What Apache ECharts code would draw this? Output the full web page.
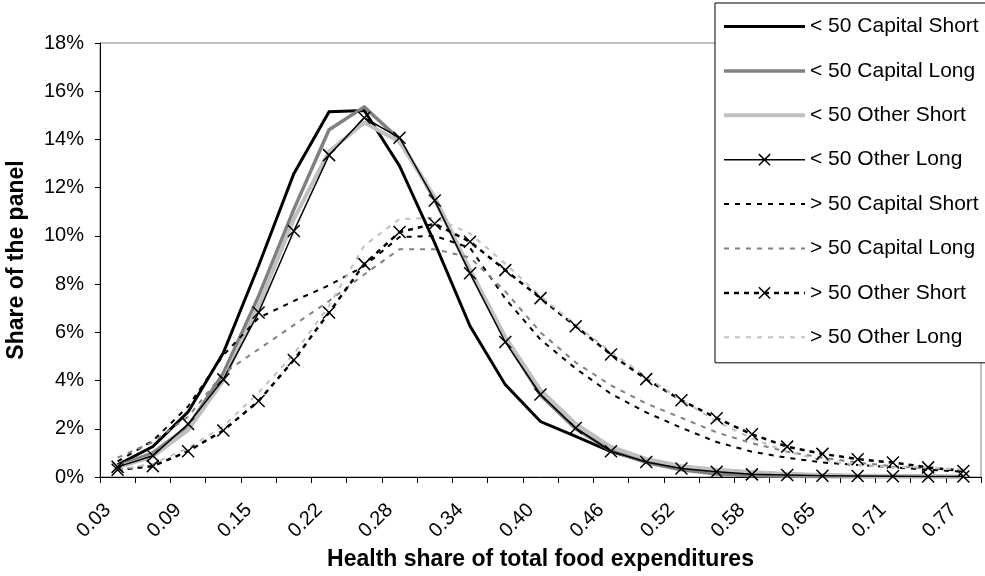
<!DOCTYPE html>
<html>
<head>
<meta charset="utf-8">
<script src="https://cdn.jsdelivr.net/npm/echarts@6/dist/echarts.min.js"></script>
<style>
html,body{margin:0;padding:0;background:#fff;}
#chart{width:985px;height:576px;}
</style>
</head>
<body>
<div id="chart"></div>
<script>
// Category labels (health share of total food expenditures)
var categories = ['0.03','0.06','0.09','0.12','0.15','0.18','0.22','0.25','0.28','0.31','0.34','0.37','0.40',
                  '0.43','0.46','0.49','0.52','0.55','0.58','0.62','0.65','0.68','0.71','0.74','0.77'];

// Series values (share of the panel, %)
var capShortU50 = [0.5,1.26,2.7,5.15,8.76,12.58,15.15,15.2,12.9,9.7,6.26,3.83,2.3,1.68,1.05,0.64,0.4,0.3,0.2,0.12,0.08,0.05,0.04,0.03,0.02];
var capLongU50  = [0.45,1.0,2.1,4.3,7.5,11.1,14.4,15.35,14.0,11.5,8.5,5.7,3.4,2.0,1.1,0.6,0.3,0.12,0.05,0.03,0.02,0.01,0.01,0.01,0.01];
var othShortU50 = [0.4,0.85,1.95,4.0,7.1,10.7,13.5,14.7,13.9,11.6,8.6,5.8,3.6,2.2,1.25,0.75,0.45,0.3,0.2,0.12,0.08,0.05,0.04,0.03,0.02];
var othLongU50  = [0.42,0.88,2.2,4.05,6.82,10.2,13.35,14.9,14.07,11.47,8.45,5.6,3.42,2.03,1.07,0.62,0.35,0.22,0.11,0.08,0.05,0.04,0.03,0.02,0.02];
var capShortO50 = [0.65,1.5,2.93,5.05,6.6,7.3,7.95,8.75,9.95,10.0,9.5,7.4,5.7,4.5,3.45,2.68,2.04,1.45,1.05,0.8,0.6,0.5,0.4,0.3,0.22];
var capLongO50  = [0.8,1.45,2.5,4.3,5.3,6.3,7.3,8.4,9.45,9.45,9.1,7.7,6.0,4.75,3.8,3.05,2.45,1.85,1.4,1.05,0.8,0.6,0.45,0.35,0.3];
var othShortO50 = [0.3,0.45,1.07,1.93,3.15,4.85,6.82,8.83,10.16,10.5,9.76,8.58,7.42,6.25,5.08,4.06,3.18,2.44,1.77,1.26,0.96,0.74,0.6,0.4,0.25];
var othLongO50  = [0.3,0.55,1.2,2.1,3.5,5.1,7.1,9.6,10.7,10.75,10.1,8.85,7.5,6.3,5.2,4.15,3.2,2.3,1.6,1.05,0.7,0.5,0.4,0.4,0.3];

var seriesNames = ['< 50 Capital Short','< 50 Capital Long','< 50 Other Short','< 50 Other Long',
                   '> 50 Capital Short','> 50 Capital Long','> 50 Other Short','> 50 Other Long'];

var FONT = "'Liberation Sans', Arial, Helvetica, sans-serif";
var XMARK = 'path://M0,0L10,10M10,0L0,10';

var styles = [
  { color: '#000000', width: 3,   type: 'solid', marker: false },
  { color: '#808080', width: 3.5, type: 'solid', marker: false },
  { color: '#c0c0c0', width: 4,   type: 'solid', marker: false },
  { color: '#000000', width: 1.5, type: 'solid', marker: true },
  { color: '#000000', width: 2,   type: [5, 6],  marker: false },
  { color: '#808080', width: 2,   type: [5, 6],  marker: false },
  { color: '#000000', width: 2.5, type: [5, 5],  marker: true },
  { color: '#c0c0c0', width: 2,   type: [5, 6],  marker: false }
];
var dataSets = [capShortU50, capLongU50, othShortU50, othLongU50, capShortO50, capLongO50, othShortO50, othLongO50];

var series = seriesNames.map(function (name, i) {
  var st = styles[i];
  var s = {
    name: name, type: 'line', data: dataSets[i],
    lineStyle: { color: st.color, width: st.width, type: st.type, join: 'miter' },
    itemStyle: { color: st.color, borderColor: st.color, borderWidth: 1.5 },
    emphasis: { disabled: true },
    silent: true
  };
  if (st.marker) { s.symbol = XMARK; s.symbolSize = 12; s.showAllSymbol = true; }
  else { s.symbol = 'none'; }
  return s;
});

var legendData = seriesNames.map(function (name, i) {
  var st = styles[i];
  var d = { name: name, lineStyle: { color: st.color, width: st.width, type: st.type } };
  if (!st.marker) {
    d.itemStyle = { color: 'rgba(0,0,0,0)', borderColor: 'rgba(0,0,0,0)', borderWidth: 0, opacity: 0 };
  } else {
    d.itemStyle = { color: '#000', borderColor: '#000', borderWidth: 1.5 };
  }
  return d;
});

var chart = echarts.init(document.getElementById('chart'), null, { renderer: 'canvas' });
chart.setOption({
  animation: false,
  backgroundColor: '#fff',
  grid: {
    left: 100, top: 43, width: 881, height: 434,
    show: true, borderColor: '#808080', borderWidth: 1, backgroundColor: 'transparent',
    outerBoundsMode: 'none'
  },
  xAxis: {
    type: 'category', data: categories, boundaryGap: true,
    name: 'Health share of total food expenditures',
    nameLocation: 'middle', nameGap: 67,
    nameTextStyle: { fontFamily: FONT, fontSize: 23, fontWeight: 'bold', color: '#000' },
    axisLine: { show: true, lineStyle: { color: '#000', width: 1 } },
    axisTick: { show: true, interval: 0, length: 6, inside: false, lineStyle: { color: '#000' } },
    axisLabel: { interval: 1, rotate: 45, margin: 20, padding: [0, 14, 0, 0],
                 fontFamily: FONT, fontSize: 20, color: '#000' },
    splitLine: { show: false }
  },
  yAxis: {
    type: 'value', min: 0, max: 18, interval: 2,
    name: 'Share of the panel',
    nameLocation: 'middle', nameGap: 72, nameRotate: 90,
    nameTextStyle: { fontFamily: FONT, fontSize: 23, fontWeight: 'bold', color: '#000' },
    axisLine: { show: true, lineStyle: { color: '#000', width: 1 } },
    axisTick: { show: true, length: 5, inside: false, lineStyle: { color: '#000' } },
    axisLabel: { formatter: '{value}%', margin: 16, fontFamily: FONT, fontSize: 20, color: '#000' },
    splitLine: { show: false }
  },
  legend: {
    show: true, orient: 'vertical', left: 715, top: 3,
    backgroundColor: '#fff', borderColor: '#000', borderWidth: 1,
    padding: [13, 11, 15, 7],
    itemWidth: 81, itemHeight: 14, itemGap: 23.4,
    textStyle: { fontFamily: FONT, fontSize: 21, color: '#000' },
    data: legendData,
    selectedMode: false
  },
  series: series
});
</script>
</body>
</html>
